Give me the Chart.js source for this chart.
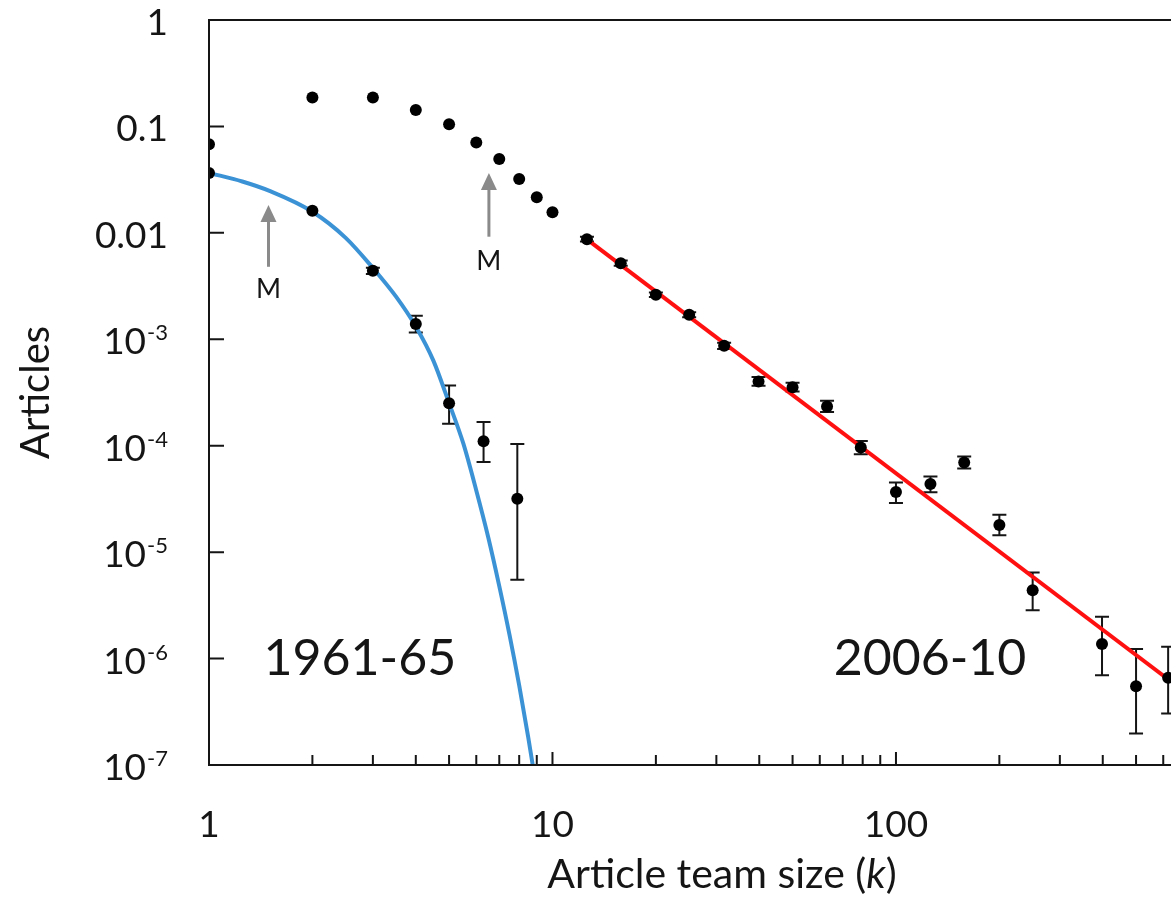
<!DOCTYPE html>
<html>
<head>
<meta charset="utf-8">
<title>Article team size distribution</title>
<script src="https://cdn.jsdelivr.net/npm/chart.js@4.4.1/dist/chart.umd.min.js"></script>
<style>
  html, body { margin: 0; padding: 0; background: #fff; }
  canvas { display: block; }
</style>
</head>
<body>
<canvas id="teamChart" width="1171" height="898"></canvas>
<script>
// 1961-65 articles (points + error bars)
const sizes1961 = [1, 2, 3, 4, 5, 6.3, 7.9]
const articles1961 = [0.0366, 0.0161, 0.0044, 0.00139, 0.00025, 0.00011, 0.0000318]
const low1961 = [null, null, 0.0041, 0.00116, 0.000161, 0.0000703, 0.0000055]
const high1961 = [null, null, 0.0047, 0.00166, 0.000368, 0.000167, 0.000104]

// 2006-10 articles (points + error bars)
const sizes2006 = [1, 2, 3, 4, 5, 6, 7, 8, 9, 10, 12.6, 15.8, 20, 25, 31.6, 39.8, 50, 63, 79, 100, 126, 158, 200, 250, 398, 500, 620]
const articles2006 = [0.068, 0.187, 0.187, 0.143, 0.105, 0.0705, 0.0495, 0.0321, 0.0216, 0.0156,
    0.00873, 0.00519, 0.00262, 0.0017, 0.00087, 0.000402, 0.000355, 0.000234, 0.000096, 0.0000367,
    0.0000437, 0.0000697, 0.000018, 0.00000438, 0.00000137, 0.00000055, 0.00000066]
const low2006 = [null, null, null, null, null, null, null, null, null, null,
    0.0083, 0.0049, 0.00249, 0.00161, 0.00081, 0.000365, 0.000323, 0.000207, 0.000083, 0.000029,
    0.0000365, 0.000061, 0.0000144, 0.00000284, 0.000000697, 0.000000198, 0.000000305]
const high2006 = [null, null, null, null, null, null, null, null, null, null,
    0.0092, 0.0055, 0.00275, 0.00179, 0.00093, 0.000443, 0.00039, 0.000265, 0.000111, 0.000045,
    0.0000515, 0.000079, 0.0000225, 0.00000645, 0.00000247, 0.00000123, 0.00000129]

// blue fit curve (1961-65)
const curveX = [1, 1.25, 1.5, 2, 2.5, 3, 3.5, 4, 4.5, 5, 5.5, 6, 6.5, 7, 7.5, 8, 8.5, 9]
const curveY = [0.0366, 0.0304, 0.0248, 0.0158, 0.00898, 0.00468, 0.00253, 0.00132, 0.00063, 0.000251,
    0.000105, 0.000038, 0.0000138, 0.0000048, 0.00000166, 0.00000056, 0.000000182, 0.000000058]

// red power-law fit (2006-10)
const fitX = [12.6, 632]
const fitY = [0.0087, 0.00000061]

// axes
const xMin = 1, xMax = 632
const xTickValues = [1, 2, 3, 4, 5, 6, 7, 8, 9, 10, 20, 30, 40, 50, 60, 70, 80, 90, 100, 200, 300, 400, 500, 600]
const xTickLabels = { 1: '1', 10: '10', 100: '100' }
const yTickValues = [1, 0.1, 0.01, 1e-3, 1e-4, 1e-5, 1e-6, 1e-7]
const yTickBase = ['1', '0.1', '0.01', '10', '10', '10', '10', '10']
const yTickExp = ['', '', '', '-3', '-4', '-5', '-6', '-7']

// annotations: M arrows and period labels (data coordinates)
const arrowX = [1.49, 6.53]
const arrowTip = [0.0183, 0.0366]
const arrowBase = [0.0048, 0.0092]
const markText = ['M', 'M']
const markY = [0.00245, 0.0045]
const periodText = ['1961-65', '2006-10']
const periodX = [2.75, 125.6]
const periodY = [7.08e-7, 7.08e-7]

const FONT = 'Lato, "Open Sans", sans-serif'
const INK = '#151515'

function toPoints(xs, ys) {
    return xs.map((v, i) => ({ x: v, y: ys[i] }))
}

function drawErrorBars(ctx, x, y, xs, lo, hi) {
    xs.forEach((v, i) => {
        if (lo[i] == null) return
        var px = x.getPixelForValue(v)
        var top = y.getPixelForValue(hi[i]), bot = y.getPixelForValue(lo[i])
        ctx.beginPath()
        ctx.moveTo(px, top); ctx.lineTo(px, bot)
        ctx.moveTo(px - 7, top); ctx.lineTo(px + 7, top)
        ctx.moveTo(px - 7, bot); ctx.lineTo(px + 7, bot)
        ctx.stroke()
    })
}

const decorations = {
    id: 'decorations',
    beforeDatasetsDraw(chart) {
        const { ctx, chartArea: a, scales: { x, y } } = chart
        ctx.save()
        ctx.beginPath(); ctx.rect(a.left, a.top, a.right - a.left, a.bottom - a.top); ctx.clip()
        ctx.strokeStyle = INK
        ctx.lineWidth = 2
        drawErrorBars(ctx, x, y, sizes1961, low1961, high1961)
        drawErrorBars(ctx, x, y, sizes2006, low2006, high2006)
        ctx.restore()
    },
    afterDraw(chart) {
        const { ctx, chartArea: a, scales: { x, y } } = chart
        ctx.save()
        // frame: left, bottom, top
        ctx.strokeStyle = INK
        ctx.lineWidth = 2
        ctx.beginPath()
        ctx.moveTo(a.right, a.top); ctx.lineTo(a.left, a.top)
        ctx.lineTo(a.left, a.bottom); ctx.lineTo(a.right, a.bottom)
        ctx.stroke()

        // inward tick marks
        ctx.beginPath()
        yTickValues.forEach(v => {
            var py = y.getPixelForValue(v)
            ctx.moveTo(a.left, py); ctx.lineTo(a.left + 15, py)
        })
        xTickValues.forEach(v => {
            if (v == xMin) return
            var px = x.getPixelForValue(v)
            var len = xTickLabels[v] ? 13 : 10
            ctx.moveTo(px, a.bottom); ctx.lineTo(px, a.bottom - len)
        })
        ctx.stroke()

        // y tick labels with superscript exponent
        ctx.fillStyle = INK
        ctx.textAlign = 'right'
        ctx.textBaseline = 'alphabetic'
        var right = a.left - 41
        yTickValues.forEach((v, i) => {
            var py = y.getPixelForValue(v)
            var baseX = right
            if (yTickExp[i]) {
                ctx.font = '22px ' + FONT
                ctx.fillText(yTickExp[i], right, py + 1)
                baseX = right - ctx.measureText(yTickExp[i]).width - 1
            }
            ctx.font = '37px ' + FONT
            ctx.fillText(yTickBase[i], baseX, py + 15)
        })

        // x tick labels (decades only)
        ctx.textAlign = 'center'
        ctx.font = '37px ' + FONT
        xTickValues.forEach(v => {
            if (xTickLabels[v]) ctx.fillText(xTickLabels[v], x.getPixelForValue(v), a.bottom + 72)
        })

        // x axis title with italic k
        var parts = [['Article team size (', 'normal'], ['k', 'italic'], [')', 'normal']]
        var widths = parts.map(p => { ctx.font = p[1] + ' 41px ' + FONT; return ctx.measureText(p[0]).width })
        var total = widths.reduce((s, w) => s + w, 0)
        var tx = 722 - total / 2
        ctx.textAlign = 'left'
        parts.forEach((p, i) => {
            ctx.font = p[1] + ' 41px ' + FONT
            ctx.fillText(p[0], tx, 888)
            tx += widths[i]
        })

        // M arrows
        ctx.strokeStyle = '#8a8a8a'
        ctx.fillStyle = '#8a8a8a'
        ctx.lineWidth = 3
        arrowX.forEach((v, i) => {
            var px = x.getPixelForValue(v)
            var tip = y.getPixelForValue(arrowTip[i]), base = y.getPixelForValue(arrowBase[i])
            ctx.beginPath()
            ctx.moveTo(px, base); ctx.lineTo(px, tip + 14)
            ctx.stroke()
            ctx.beginPath()
            ctx.moveTo(px, tip); ctx.lineTo(px - 8, tip + 17); ctx.lineTo(px + 8, tip + 17)
            ctx.closePath(); ctx.fill()
        })
        ctx.fillStyle = INK
        ctx.textAlign = 'center'
        ctx.font = '27px ' + FONT
        markText.forEach((t, i) => {
            ctx.fillText(t, x.getPixelForValue(arrowX[i]), y.getPixelForValue(markY[i]))
        })

        // period labels
        ctx.font = '50px ' + FONT
        periodText.forEach((t, i) => {
            ctx.fillText(t, x.getPixelForValue(periodX[i]), y.getPixelForValue(periodY[i]))
        })
        ctx.restore()
    }
}

new Chart(document.getElementById('teamChart'), {
    type: 'scatter',
    data: {
        datasets: [{
            label: '1961-65',
            data: toPoints(sizes1961, articles1961),
            backgroundColor: '#000',
            borderWidth: 0,
            pointRadius: 6
        }, {
            label: '2006-10',
            data: toPoints(sizes2006, articles2006),
            backgroundColor: '#000',
            borderWidth: 0,
            pointRadius: 6
        }, {
            label: '1961-65 fit',
            data: toPoints(curveX, curveY),
            showLine: true,
            borderColor: '#3b93d6',
            borderWidth: 4,
            pointRadius: 0,
            cubicInterpolationMode: 'monotone'
        }, {
            label: '2006-10 fit',
            data: toPoints(fitX, fitY),
            showLine: true,
            borderColor: '#ff1010',
            borderWidth: 4,
            pointRadius: 0
        }]
    },
    options: {
        responsive: false,
        animation: false,
        layout: { autoPadding: false, padding: { top: 20, right: 0, left: 0, bottom: 0 } },
        plugins: { legend: { display: false }, tooltip: { enabled: false } },
        scales: {
            x: {
                type: 'logarithmic',
                min: xMin,
                max: xMax,
                bounds: 'data',
                grid: { display: false, drawTicks: false },
                border: { display: false },
                afterBuildTicks: s => { s.ticks = xTickValues.map(v => ({ value: v })) },
                afterFit: s => { s.height = 133 },
                ticks: { display: false }
            },
            y: {
                type: 'logarithmic',
                min: 1e-7,
                max: 1,
                grid: { display: false, drawTicks: false },
                border: { display: false },
                afterBuildTicks: s => { s.ticks = yTickValues.map(v => ({ value: v })) },
                afterFit: s => { s.width = 209 },
                ticks: { display: false },
                title: {
                    display: true,
                    text: 'Articles',
                    color: INK,
                    font: { family: FONT, size: 40, lineHeight: 1.2 },
                    padding: { top: 12, bottom: 0 }
                }
            }
        }
    },
    plugins: [decorations]
})
</script>
</body>
</html>
